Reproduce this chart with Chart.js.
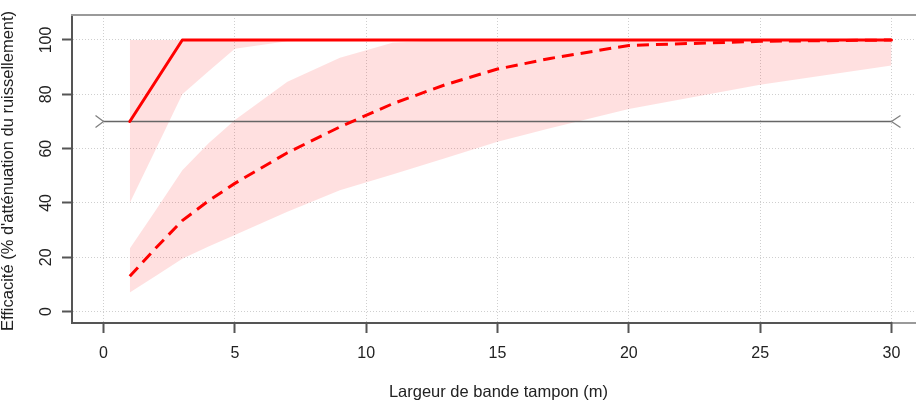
<!DOCTYPE html>
<html><head><meta charset="utf-8">
<script src="https://cdn.jsdelivr.net/npm/chart.js@4.4.1/dist/chart.umd.min.js"></script>
<style>
html,body{margin:0;padding:0;overflow:hidden;background:#fff;width:916px;height:403px}
#wrap{position:relative;width:924px;height:403px}
canvas{display:block}
</style></head>
<body><div id="wrap"><canvas id="c" width="924" height="403"></canvas></div>
<script>
// Buffer strip width (m)
const widths     = [1, 2, 3, 4, 5, 7, 9, 11, 13, 15, 17, 20, 25, 30];
// Solid series (efficiency) and its band
const solidEff   = [70, 85, 100, 100, 100, 100, 100, 100, 100, 100, 100, 100, 100, 100];
const solidHigh  = [100, 100, 100, 100, 100, 100, 100, 100, 100, 100, 100, 100, 100, 100];
const solidLow   = [40, 60, 80, 88.5, 96.8, 99.5, 100, 100, 100, 100, 100, 100, 100, 100];
// Dashed series and its band
const dashedEff  = [13, 23.5, 33.5, 40.8, 47.2, 58.5, 68, 76.5, 83.5, 89.3, 93.2, 98, 99.5, 100];
const dashedHigh = [23.2, 37.5, 52, 62, 70.5, 84.6, 93.5, 99, 100, 100, 100, 100, 100, 100];
const dashedLow  = [7, 13.2, 19.5, 24, 28.2, 36.8, 44.7, 50.5, 56.5, 62.5, 67.5, 74.6, 83.5, 90.6];
// Reference line
const refLevel = 70;
const refRange = [0, 30];
// Ticks
const xTicks = [0, 5, 10, 15, 20, 25, 30];
const yTicks = [0, 20, 40, 60, 80, 100];
const xTitle = 'Largeur de bande tampon (m)';
const yTitle = "Efficacité (% d'atténuation du ruissellement)";

const pts = arr => widths.map((x, i) => ({x: x, y: arr[i]}));
const BAND = 'rgba(255,0,0,0.12)';
const FONT = '"Liberation Sans", Arial, Helvetica, sans-serif';
const TXT = '#222';

const decor = {
  id: 'decor',
  afterDraw(chart) {
    const {ctx, chartArea: ca, scales: {x, y}} = chart;
    ctx.save();
    // top box line
    ctx.strokeStyle = '#9a9a9a'; ctx.lineWidth = 2;
    ctx.beginPath(); ctx.moveTo(ca.left - 1, ca.top); ctx.lineTo(ca.right + 2, ca.top); ctx.stroke();
    // bottom line beyond last tick, lighter
    const x30 = x.getPixelForValue(xTicks[xTicks.length - 1]);
    ctx.beginPath(); ctx.moveTo(x30 + 1, ca.bottom); ctx.lineTo(ca.right + 2, ca.bottom); ctx.stroke();
    // arrowheads on reference line
    const yr = y.getPixelForValue(refLevel);
    const xa = x.getPixelForValue(refRange[0]);
    const xb = x.getPixelForValue(refRange[1]);
    ctx.strokeStyle = '#808080'; ctx.lineWidth = 1.3;
    ctx.beginPath();
    ctx.moveTo(xa - 8, yr - 6); ctx.lineTo(xa, yr); ctx.lineTo(xa - 8, yr + 6);
    ctx.moveTo(xb + 9, yr - 6); ctx.lineTo(xb, yr); ctx.lineTo(xb + 9, yr + 6);
    ctx.stroke();
    // tick labels
    ctx.fillStyle = TXT;
    ctx.font = '16px ' + FONT;
    ctx.textAlign = 'center'; ctx.textBaseline = 'alphabetic';
    x.ticks.forEach(t => {
      ctx.fillText(String(t.value), x.getPixelForValue(t.value), 358);
    });
    y.ticks.forEach(t => {
      ctx.save();
      ctx.translate(50.5, y.getPixelForValue(t.value));
      ctx.rotate(-Math.PI / 2);
      ctx.fillText(String(t.value), 0, 0);
      ctx.restore();
    });
    // axis titles
    ctx.font = '16.5px ' + FONT;
    ctx.fillText(xTitle, 498.5, 396.5);
    ctx.save();
    ctx.translate(13, 171);
    ctx.rotate(-Math.PI / 2);
    ctx.fillText(yTitle, 0, 0);
    ctx.restore();
    ctx.restore();
  }
};

const hidden = {borderWidth: 0, borderColor: 'transparent', pointRadius: 0, tension: 0};

new Chart(document.getElementById('c'), {
  type: 'line',
  data: {
    datasets: [
      {label: 'solid', data: pts(solidEff), borderColor: '#ff0000', borderWidth: 3, pointRadius: 0,
       borderCapStyle: 'round', borderJoinStyle: 'round', fill: false, tension: 0, order: 0},
      {label: 'dashed', data: pts(dashedEff), borderColor: '#ff0000', borderWidth: 3, pointRadius: 0,
       borderDash: [12, 7], borderCapStyle: 'butt', fill: false, tension: 0, order: 1},
      {label: 'ref', data: [{x: refRange[0], y: refLevel}, {x: refRange[1], y: refLevel}],
       borderColor: '#666666', borderWidth: 1.6, pointRadius: 0, fill: false, tension: 0, order: 2},
      Object.assign({label: 'solidHigh', data: pts(solidHigh), fill: false, order: 3}, hidden),
      Object.assign({label: 'solidLow', data: pts(solidLow), fill: '-1', backgroundColor: BAND, order: 3}, hidden),
      Object.assign({label: 'dashedHigh', data: pts(dashedHigh), fill: false, order: 3}, hidden),
      Object.assign({label: 'dashedLow', data: pts(dashedLow), fill: '-1', backgroundColor: BAND, order: 3}, hidden)
    ]
  },
  options: {
    responsive: false,
    animation: false,
    devicePixelRatio: 1,
    layout: {padding: {top: 15, right: 1, left: 0, bottom: 0}},
    plugins: {legend: {display: false}, tooltip: {enabled: false}, filler: {drawTime: 'beforeDatasetsDraw'}},
    scales: {
      x: {
        type: 'linear', min: -1.2, max: 31.2,
        afterBuildTicks: s => { s.ticks = xTicks.map(v => ({value: v})); },
        afterFit: s => { s.height = 80; },
        grid: {color: '#cfcfcf', lineWidth: 1, drawTicks: true, tickLength: 10, tickColor: '#555', tickWidth: 2, tickBorderDash: []},
        border: {display: true, color: '#555', width: 2, dash: [1, 2]},
        ticks: {display: false}
      },
      y: {
        type: 'linear', min: -4.2, max: 109.2,
        afterBuildTicks: s => { s.ticks = yTicks.map(v => ({value: v})); },
        afterFit: s => { s.width = 72; },
        grid: {color: '#cfcfcf', lineWidth: 1, drawTicks: true, tickLength: 10, tickColor: '#555', tickWidth: 2, tickBorderDash: []},
        border: {display: true, color: '#555', width: 2, dash: [1, 2]},
        ticks: {display: false}
      }
    }
  },
  plugins: [decor]
});
</script>
</body></html>
